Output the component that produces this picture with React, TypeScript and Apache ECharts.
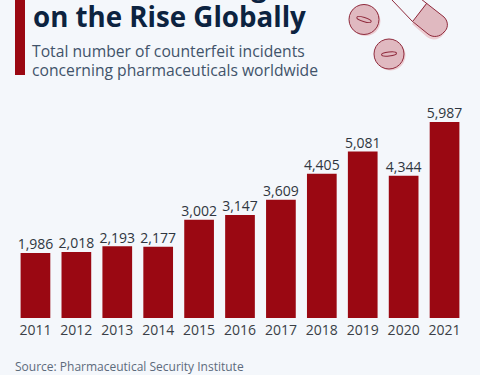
import React, { useEffect, useRef } from "react";
import * as echarts from "echarts";

const years = ["2011","2012","2013","2014","2015","2016","2017","2018","2019","2020","2021"];
const incidents = [1986,2018,2193,2177,3002,3147,3609,4405,5081,4344,5987];
const titleLines = ["Counterfeit Drugs","on the Rise Globally"];
const subtitleLines = ["Total number of counterfeit incidents","concerning pharmaceuticals worldwide"];
const sourceText = "Source: Pharmaceutical Security Institute";

const capsuleEnd = "M426 3 L444 17 C449 22 448 29 444 32 C440 37 433 38 428 34 L413 21 Z";
const capsuleBody = "M392 0 L412 21 L428 34 C433 38 440 37 444 32 C448 29 449 22 444 17 L421 -1";

const FONT = '"Open Sans", sans-serif';
const OUT = "#8f2a3c";
const PINK = "#e0b9c0";
const SHADOW = "#eccdd2";
const BG = "#f4f7fb";

function pill(cx: number, cy: number, rot: number, rx: number) {
  return [
    { type: "circle", shape: { cx: cx + 1.5, cy: cy + 1.5, r: 15 }, style: { fill: SHADOW } },
    { type: "circle", shape: { cx, cy, r: 15 }, style: { fill: PINK, stroke: OUT, lineWidth: 1 } },
    { type: "ellipse", x: cx, y: cy, rotation: rot, shape: { cx: 0, cy: 0, rx, ry: 2 }, style: { fill: PINK, stroke: OUT, lineWidth: 1 } },
  ];
}

export default function App() {
  const ref = useRef<HTMLDivElement>(null);
  useEffect(() => {
    echarts.graphic.registerShape("capsuleEnd", echarts.graphic.extendPath(capsuleEnd, {}) as any);
    echarts.graphic.registerShape("capsuleBody", echarts.graphic.extendPath(capsuleBody, {}) as any);
    const chart = echarts.init(ref.current!, undefined, { renderer: "svg" });
    const texts: any[] = [
      { type: "text", x: 33, y: -29.5, style: { text: titleLines[0], font: `700 27.7px ${FONT}`, fill: "#0c2340" } },
      { type: "text", x: 33, y: 2, style: { text: titleLines[1], font: `700 27.7px ${FONT}`, fill: "#0c2340" } },
      { type: "text", x: 32, y: 42.5, style: { text: subtitleLines[0], font: `400 15.7px ${FONT}`, fill: "#41536a" } },
      { type: "text", x: 32, y: 62, style: { text: subtitleLines[1], font: `400 15.7px ${FONT}`, fill: "#41536a" } },
      { type: "text", x: 15, y: 360.5, style: { text: sourceText, font: `400 12px ${FONT}`, fill: "#5d6b7b" } },
    ];
    chart.setOption({
      animation: false,
      backgroundColor: BG,
      grid: { left: 15, right: 15, top: 121.5, bottom: 57 },
      xAxis: {
        type: "category",
        data: years,
        axisLine: { show: false },
        axisTick: { show: false },
        axisLabel: { interval: 0, color: "#3a3f47", fontFamily: FONT, fontSize: 14, margin: 3, lineHeight: 17, verticalAlign: "top" },
      },
      yAxis: { type: "value", min: 0, max: 6000, show: false, splitLine: { show: false } },
      series: [{
        type: "bar",
        data: incidents,
        barWidth: 29.7,
        itemStyle: { color: "#9a0812" },
        label: {
          show: true,
          position: "top",
          distance: 2,
          color: "#2f3640",
          fontFamily: FONT,
          fontSize: 14,
          formatter: (p: any) => p.value.toLocaleString("en-US"),
        },
      }],
      graphic: [
        { type: "rect", shape: { x: 15, y: 0, width: 10, height: 75 }, style: { fill: "#9a0812" } },
        ...texts,
        ...pill(364, 19.5, -0.3, 7.5),
        ...pill(389, 54, 0.1, 7.5),
        { type: "capsuleEnd", x: -1, y: 3, style: { fill: SHADOW } },
        { type: "capsuleEnd", style: { fill: PINK } },
        { type: "capsuleBody", style: { fill: "none", stroke: OUT, lineWidth: 1 } },
        { type: "line", shape: { x1: 413, y1: 21, x2: 427, y2: 3 }, style: { stroke: OUT, lineWidth: 1 } },
      ],
    });
    return () => chart.dispose();
  }, []);
  return <div ref={ref} style={{ position: "fixed", left: 0, top: 0, width: 480, height: 375 }} />;
}
